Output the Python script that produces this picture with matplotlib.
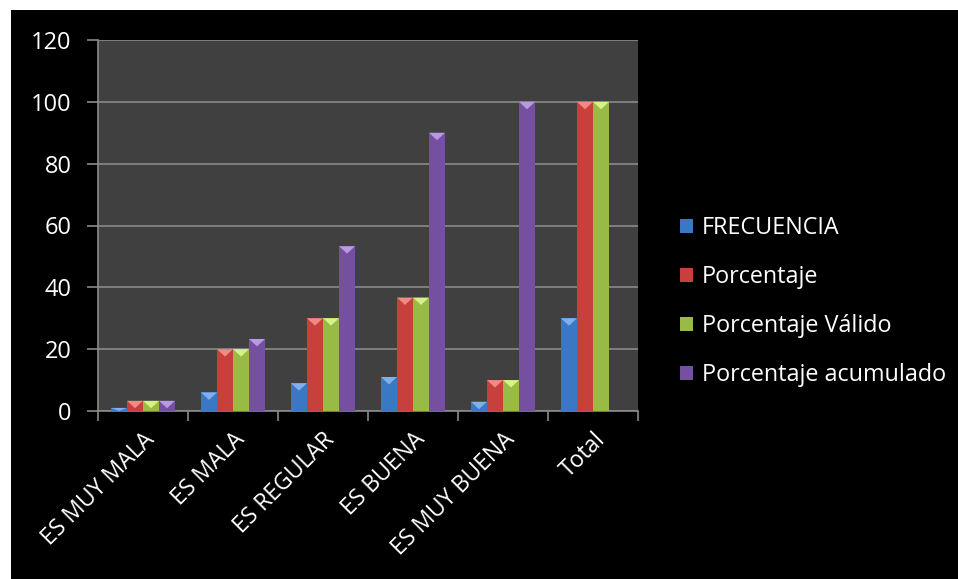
import numpy as np
import matplotlib
matplotlib.use("Agg")
import matplotlib.pyplot as plt
from matplotlib.patches import Rectangle, Polygon

categories = ["ES MUY MALA", "ES MALA", "ES REGULAR", "ES BUENA", "ES MUY BUENA", "Total"]
frecuencia = [1, 6, 9, 11, 3, 30]
porcentaje = [3.3, 20.0, 30.0, 36.7, 10.0, 100.0]
porcentaje_valido = [3.3, 20.0, 30.0, 36.7, 10.0, 100.0]
porcentaje_acum = [3.3, 23.3, 53.3, 90.0, 100.0, np.nan]

series = [
    ("FRECUENCIA", frecuencia, "#3b78c4", "#7fb0ea"),
    ("Porcentaje", porcentaje, "#c8403c", "#f08a86"),
    ("Porcentaje Válido", porcentaje_valido, "#98bb45", "#d6f08a"),
    ("Porcentaje acumulado", porcentaje_acum, "#7550a0", "#b79ae0"),
]

plt.rcParams["font.family"] = ["Open Sans", "DejaVu Sans"]

fig = plt.figure(figsize=(9.58, 5.79), dpi=100, facecolor="white")
# black chart area (white margin at top and left)
fig.patches.append(Rectangle((11 / 958, 0), 1, 1 - 10 / 579, transform=fig.transFigure,
                             facecolor="black", edgecolor="none", zorder=-10))

ax = fig.add_axes([98 / 958, 1 - 411 / 579, (638 - 98) / 958, (411 - 40) / 579])
ax.set_zorder(5)
ax.set_facecolor("#404040")

x = np.arange(len(categories))
w = 0.178
for i, (name, vals, col, light) in enumerate(series):
    pos = x + (i - 1.5) * w
    vals = np.asarray(vals, dtype=float)
    ax.bar(pos, vals, width=w, color=col, edgecolor="none", zorder=3, label=name)
    # light bevel triangle on top of each bar
    for px, v in zip(pos, vals):
        if not np.isfinite(v):
            continue
        h = min(2.4, v)
        tri = Polygon([(px - w / 2, v), (px + w / 2, v), (px, v - h)],
                      closed=True, facecolor=light, edgecolor="none", zorder=4)
        ax.add_patch(tri)

ax.set_xlim(-0.5, len(categories) - 0.5)
ax.set_ylim(0, 120)
ax.set_yticks(range(0, 121, 20))
ax.grid(axis="y", color="#8a8a8a", linewidth=1.2, zorder=1)
ax.set_axisbelow(True)

ax.set_xticks(np.arange(len(categories) + 1) - 0.5, minor=True)
ax.set_xticks(x)
ax.set_xticklabels(categories, rotation=45, ha="right", rotation_mode="anchor",
                   fontsize=16.5, color="white")
ax.tick_params(axis="x", which="major", length=0, pad=12)
ax.tick_params(axis="x", which="minor", length=7, color="#8a8a8a", width=1.2)
ax.tick_params(axis="y", length=8, color="#8a8a8a", width=1.2, labelsize=17,
               labelcolor="white", pad=11)

for side in ["top", "right"]:
    ax.spines[side].set_visible(False)
for side in ["left", "bottom"]:
    ax.spines[side].set_color("#8a8a8a")
    ax.spines[side].set_linewidth(1.2)

ax.legend(loc="center left", bbox_to_anchor=(1.06, 0.295), borderaxespad=0,
          frameon=False, fontsize=16.8, labelcolor="white", handlelength=0.55,
          handleheight=0.55, handletextpad=0.4, labelspacing=1.07)

fig.savefig("out.png", dpi=100, facecolor=fig.get_facecolor())
plt.close(fig)
